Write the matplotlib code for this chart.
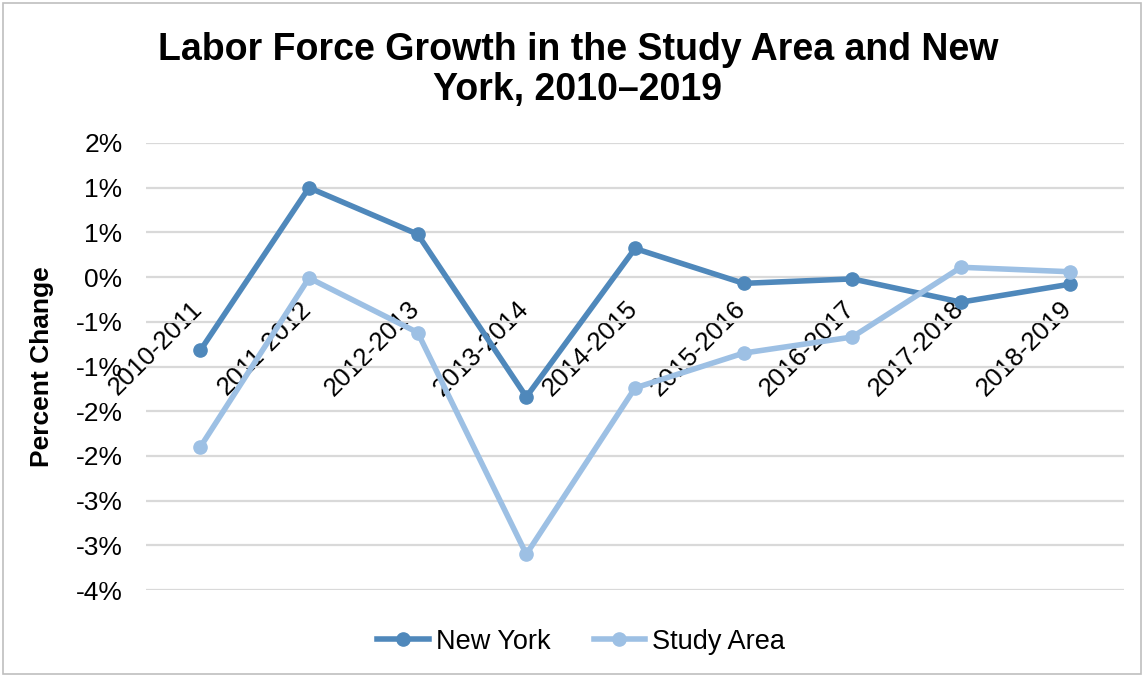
"""
Labor force growth, Study Area vs New York, 2010-2019 (Excel-style line chart).
"""

import numpy as np
import matplotlib.pyplot as plt
from matplotlib.patches import Rectangle
from matplotlib.transforms import ScaledTranslation

# Datos
periods = ["2010-2011", "2011-2012", "2012-2013", "2013-2014", "2014-2015",
           "2015-2016", "2016-2017", "2017-2018", "2018-2019"]
new_york = [-0.82, 1.00, 0.48, -1.34, 0.32, -0.07, -0.02, -0.28, -0.08]
study_area = [-1.90, -0.01, -0.62, -3.10, -1.24, -0.85, -0.67, 0.11, 0.06]

y_ticks = [1.5, 1.0, 0.5, 0.0, -0.5, -1.0, -1.5, -2.0, -2.5, -3.0, -3.5]
y_tick_labels = ["2%", "1%", "1%", "0%", "-1%", "-1%", "-2%", "-2%", "-3%", "-3%", "-4%"]

plt.rcParams["font.family"] = ["Liberation Sans", "DejaVu Sans"]

W, H = 1144, 677
fig = plt.figure(figsize=(W / 100, H / 100), dpi=100)
ax = fig.add_axes([146 / W, (H - 590) / H, (1124 - 146) / W, (590 - 143) / H])

x = np.arange(len(periods))
ax.plot(x, new_york, color="#4F88BB", lw=4, marker="o", ms=9.5, label="New York",
        solid_joinstyle="round", zorder=3)
ax.plot(x, study_area, color="#9DC0E4", lw=4, marker="o", ms=9.5, label="Study Area",
        solid_joinstyle="round", zorder=3)

ax.set_xlim(-0.5, len(periods) - 0.5)
ax.set_ylim(-3.5, 1.5)
ax.set_yticks(y_ticks)
ax.set_yticklabels(y_tick_labels, fontsize=19)
ax.yaxis.grid(True, color="#D9D9D9", lw=1.6)
ax.set_axisbelow(True)

# eje de categorías cruzando en 0
ax.spines["bottom"].set_position(("data", 0))
for s in ["top", "right", "left", "bottom"]:
    ax.spines[s].set_color("none")
ax.set_xticks(x)
ax.set_xticklabels(periods, fontsize=18.5, rotation=45, ha="right", va="top",
                   rotation_mode="anchor")
ax.tick_params(axis="x", length=0, pad=14)
ax.tick_params(axis="y", length=0, pad=17)
shift = ScaledTranslation(-0.10, 0, fig.dpi_scale_trans)
for lbl in ax.get_xticklabels():
    lbl.set_transform(lbl.get_transform() + shift)

ax.set_ylabel("Percent Change", fontsize=19, fontweight="bold")
ax.yaxis.set_label_coords(-0.094, 0.5)

fig.text(0.505, 0.897, "Labor Force Growth in the Study Area and New\nYork, 2010\u20132019",
         ha="center", va="center", fontsize=27, fontweight="bold", linespacing=1.15)

fig.legend(loc="center", bbox_to_anchor=(0.508, 0.052), ncol=2, frameon=False,
           fontsize=19.5, handlelength=1.9, handletextpad=0.25, columnspacing=1.6)

fig.patches.append(Rectangle((0.003, 0.004), 0.994, 0.992, transform=fig.transFigure,
                             fill=False, edgecolor="#BFBFBF", lw=1.2))

fig.savefig("out.png", dpi=100)
